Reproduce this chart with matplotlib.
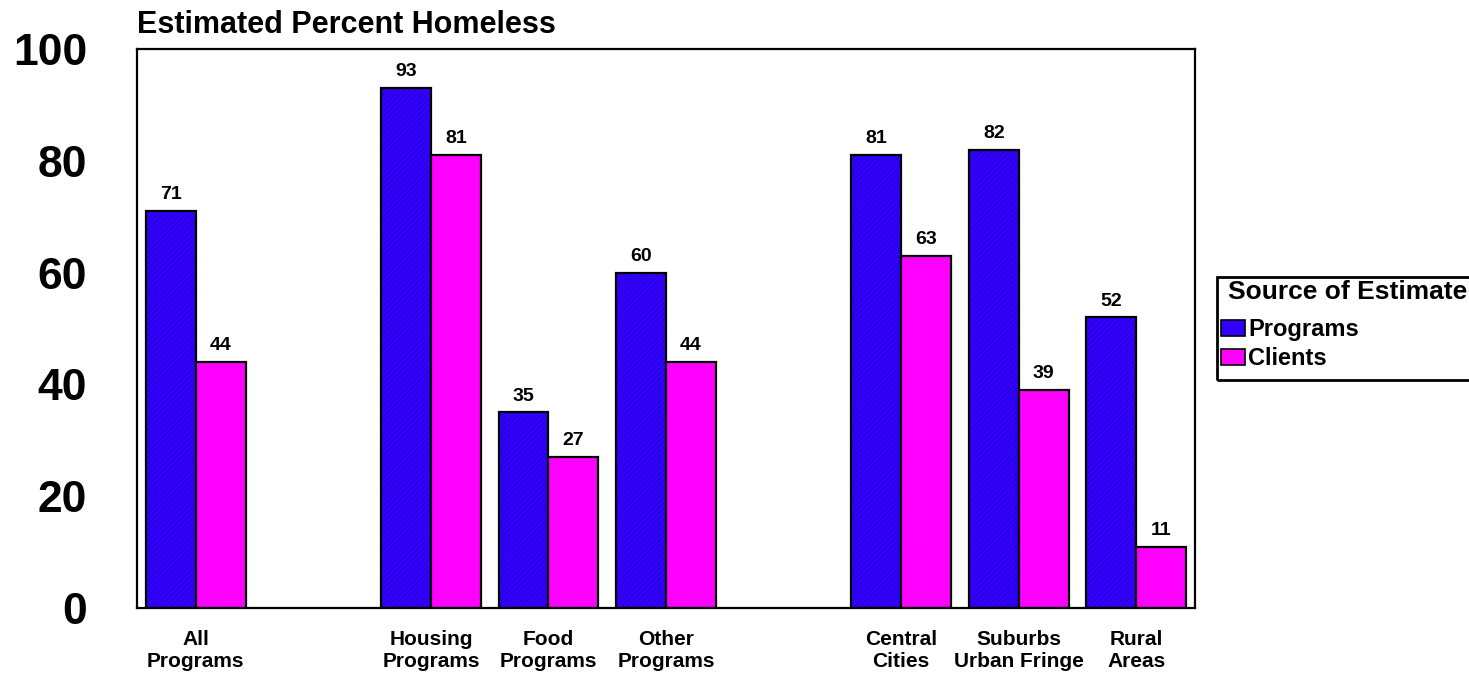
import matplotlib.pyplot as plt
from matplotlib.patches import Rectangle
import numpy as np

plt.rcParams["font.family"] = ["Liberation Sans", "DejaVu Sans"]
plt.rcParams["font.weight"] = "bold"
plt.rcParams["hatch.linewidth"] = 0.6

categories = ["All\nPrograms", "Housing\nPrograms", "Food\nPrograms", "Other\nPrograms",
              "Central\nCities", "Suburbs\nUrban Fringe", "Rural\nAreas"]
slots = [0, 2, 3, 4, 6, 7, 8]  # empty slots separate the three groups
programs = [71, 93, 35, 60, 81, 82, 52]
clients = [44, 81, 27, 44, 63, 39, 11]
yticks = [0, 20, 40, 60, 80, 100]

BLUE = "#3300ff"
PINK = "#ff00ff"

W, H = 1469, 677
fig = plt.figure(figsize=(W / 100, H / 100), dpi=100)
ax = fig.add_axes([0.0933, 0.1019, 0.7202, 0.8257])

x = np.array(slots, dtype=float)
w = 0.425
b1 = ax.bar(x - w / 2, programs, w, color=BLUE, edgecolor="#2200c8", hatch="//////",
            linewidth=0, label="Programs")
ax.bar(x - w / 2, programs, w, fill=False, edgecolor="black", linewidth=1.6)
b2 = ax.bar(x + w / 2, clients, w, color=PINK, edgecolor="black", linewidth=1.6, label="Clients")

for bars, vals in ((b1, programs), (b2, clients)):
    for bar, v in zip(bars, vals):
        ax.text(bar.get_x() + bar.get_width() / 2, v + 1.4, str(v),
                ha="center", va="bottom", fontsize=14, fontweight="bold")

ax.set_xlim(-0.5, 8.5)
ax.set_ylim(0, 100)
ax.set_xticks(x)
ax.set_xticklabels(categories, fontsize=15, fontweight="bold", linespacing=1.2)
ax.set_yticks(yticks)
ax.set_yticklabels([str(t) for t in yticks], fontsize=32, fontweight="bold")
ax.tick_params(length=0)
ax.tick_params(axis="x", pad=16)
ax.tick_params(axis="y", pad=36)
for s in ax.spines.values():
    s.set_linewidth(1.6)

fig.text(0.0933, 0.951, "Estimated Percent Homeless", fontsize=22, fontweight="bold",
         ha="left", va="baseline")

# legend: box runs off the right edge of the figure, so frame and title are drawn by hand
fig.patches.append(Rectangle((1217 / W, 1 - 380 / H), 280 / W, 103 / H,
                             transform=fig.transFigure, fill=False,
                             edgecolor="black", linewidth=2))
fig.text(1228 / W, 1 - 292 / H, "Source of Estimate", fontsize=19, fontweight="bold",
         ha="left", va="center")
prog_handle = Rectangle((0, 0), 1, 1, facecolor=BLUE, edgecolor="black", linewidth=1.2)
cli_handle = Rectangle((0, 0), 1, 1, facecolor=PINK, edgecolor="black", linewidth=1.2)
leg = fig.legend(handles=[prog_handle, cli_handle], labels=["Programs", "Clients"],
                 loc="upper left", bbox_to_anchor=(1221 / W, 1 - 318 / H),
                 fontsize=17, frameon=False, borderaxespad=0, borderpad=0,
                 handlelength=1.0, handleheight=0.65, handletextpad=0.15,
                 labelspacing=0.27)
for t in leg.get_texts():
    t.set_fontweight("bold")

fig.savefig("out.png", dpi=100)
